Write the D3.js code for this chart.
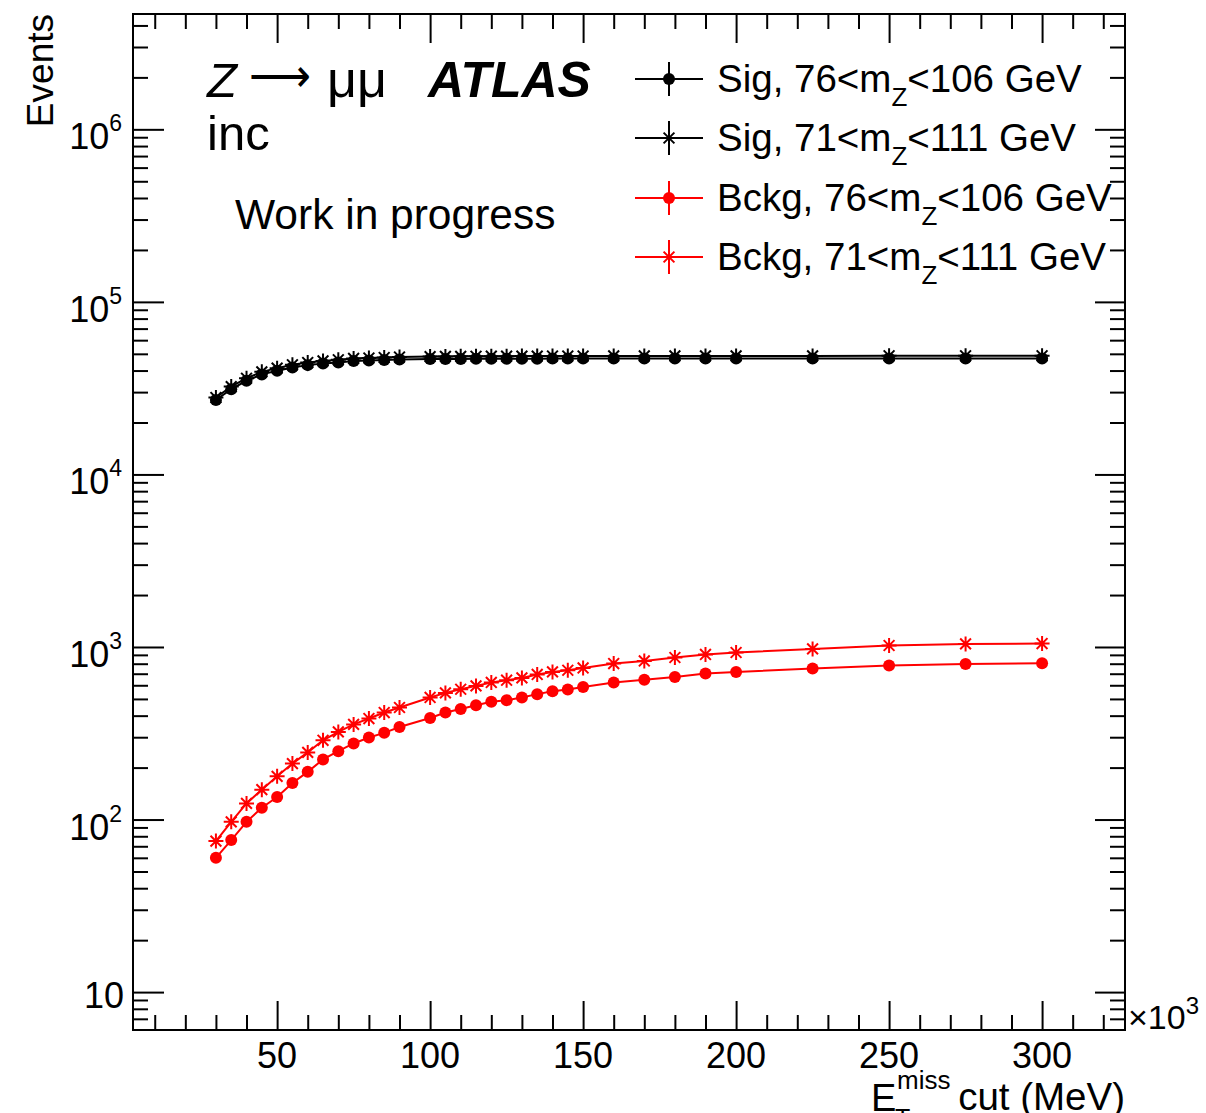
<!DOCTYPE html>
<html>
<head>
<meta charset="utf-8">
<script src="https://cdn.jsdelivr.net/npm/d3@7"></script>
<style>
  html, body { margin: 0; padding: 0; background: #fff; }
  svg { display: block; }
  text { font-family: "Liberation Sans", Arial, Helvetica, sans-serif; fill: #000; }
</style>
</head>
<body>
<svg id="chart"></svg>
<script>
/** Coupures en E_T^miss (x10^3 MeV) */
const cuts = [30, 35, 40, 45, 50, 55, 60, 65, 70, 75, 80, 85, 90,
  100, 105, 110, 115, 120, 125, 130, 135, 140, 145, 150,
  160, 170, 180, 190, 200, 225, 250, 275, 300];

/** Signal, fenetre 76<mZ<106 GeV */
const sigNarrow = [27000, 31200, 34900, 38000, 39900, 41700, 43000, 44000, 44600, 45400, 45700, 46000, 46300,
  46600, 46650, 46700, 46750, 46800, 46800, 46850, 46850, 46900, 46900, 46900,
  46950, 46950, 47000, 47000, 47000, 47000, 47050, 47050, 47050];

/** Signal, fenetre 71<mZ<111 GeV */
const sigWide = [27900, 32300, 36100, 39300, 41300, 43200, 44500, 45500, 46200, 47000, 47300, 47600, 47900,
  48200, 48300, 48350, 48400, 48450, 48450, 48500, 48500, 48550, 48550, 48550,
  48600, 48600, 48650, 48650, 48650, 48650, 48700, 48700, 48700];

/** Bruit de fond, fenetre 76<mZ<106 GeV */
const bkgNarrow = [60, 76, 97, 117, 135, 163, 189, 223, 249, 276, 299, 318, 344,
  388, 417, 437, 460, 481, 492, 510, 533, 554, 567, 587,
  623, 645, 671, 702, 717, 750, 781, 798, 805];

/** Bruit de fond, fenetre 71<mZ<111 GeV */
const bkgWide = [75, 97, 124, 149, 178, 211, 245, 288, 322, 356, 385, 417, 446,
  510, 542, 569, 595, 623, 642, 662, 693, 717, 733, 756,
  802, 830, 869, 905, 929, 975, 1020, 1042, 1047];

/** Legende : debut, indice, fin */
const legendPrefix = ["Sig, 76<m", "Sig, 71<m", "Bckg, 76<m", "Bckg, 71<m"];
const legendSub = ["Z", "Z", "Z", "Z"];
const legendSuffix = ["<106 GeV", "<111 GeV", "<106 GeV", "<111 GeV"];

/** Etiquettes des axes */
const xTickValues = [50, 100, 150, 200, 250, 300];
const yTickPowers = [1, 2, 3, 4, 5, 6];

const series = [
  { values: bkgNarrow, color: "#ff0000", marker: "dot" },
  { values: bkgWide, color: "#ff0000", marker: "star" },
  { values: sigNarrow, color: "#000000", marker: "dot" },
  { values: sigWide, color: "#000000", marker: "star" }
];
const legendOrder = [2, 3, 0, 1];

const W = 1206, H = 1113;
const frame = { left: 133, right: 1125, top: 14, bottom: 1030 };

const svg = d3.select("#chart").attr("width", W).attr("height", H);

const x = d3.scaleLinear().domain([2.9, 327.1]).range([frame.left, frame.right]);
const y = d3.scaleLog().domain([6.03, 4.66e6]).range([frame.bottom, frame.top]);

/** Marqueur etoile (+ et x) */
function starPath(cx, cy, s) {
  const d = s * 0.72;
  return `M${cx - s},${cy}L${cx + s},${cy}M${cx},${cy - s}L${cx},${cy + s}` +
    `M${cx - d},${cy - d}L${cx + d},${cy + d}M${cx - d},${cy + d}L${cx + d},${cy - d}`;
}

function drawMarker(g, m, cx, cy, color) {
  if (m === "dot") {
    g.append("circle").attr("cx", cx).attr("cy", cy).attr("r", 6).attr("fill", color);
  } else {
    g.append("path").attr("d", starPath(cx, cy, 7.5))
      .attr("stroke", color).attr("stroke-width", 2).attr("fill", "none");
  }
}

/** Graduations */
const ticks = svg.append("g");
function drawTicks(axisFn, scale, values, size, transform) {
  ticks.append("g").attr("transform", transform)
    .call(axisFn(scale).tickValues(values).tickSize(size).tickFormat(""))
    .call(a => a.select(".domain").remove())
    .selectAll("line").attr("stroke", "#000").attr("stroke-width", 2);
}
const yAll = y.ticks();
const yMajor = yAll.filter(v => Math.abs(Math.log10(v) - Math.round(Math.log10(v))) < 1e-9);
const yMinor = yAll.filter(v => !yMajor.includes(v));
const xMinor = d3.range(10, 330, 10).filter(v => v % 50 !== 0);

drawTicks(d3.axisRight, y, yMinor, 15, `translate(${frame.left},0)`);
drawTicks(d3.axisRight, y, yMajor, 31, `translate(${frame.left},0)`);
drawTicks(d3.axisLeft, y, yMinor, 15, `translate(${frame.right},0)`);
drawTicks(d3.axisLeft, y, yMajor, 30, `translate(${frame.right},0)`);
drawTicks(d3.axisTop, x, xMinor, 15, `translate(0,${frame.bottom})`);
drawTicks(d3.axisTop, x, xTickValues, 29, `translate(0,${frame.bottom})`);
drawTicks(d3.axisBottom, x, xMinor, 15, `translate(0,${frame.top})`);
drawTicks(d3.axisBottom, x, xTickValues, 29, `translate(0,${frame.top})`);

/** Cadre */
svg.append("rect")
  .attr("x", frame.left).attr("y", frame.top)
  .attr("width", frame.right - frame.left).attr("height", frame.bottom - frame.top)
  .attr("fill", "none").attr("stroke", "#000").attr("stroke-width", 2);

/** Courbes et marqueurs */
const line = d3.line().x((d, i) => x(cuts[i])).y(d => y(d));
const plot = svg.append("g");
series.forEach(s => {
  plot.append("path").datum(s.values)
    .attr("fill", "none").attr("stroke", s.color).attr("stroke-width", 2)
    .attr("d", line);
});
series.forEach(s => {
  s.values.forEach((v, i) => drawMarker(plot, s.marker, x(cuts[i]), y(v), s.color));
});

/** Etiquettes de l'axe x */
svg.append("g").selectAll("text").data(xTickValues).enter().append("text")
  .attr("x", d => x(d)).attr("y", 1068)
  .attr("text-anchor", "middle").attr("font-size", 36)
  .text(d => d);

svg.append("text").attr("x", 1128).attr("y", 1029).attr("font-size", 34)
  .text("\u00d710")
  .append("tspan").attr("font-size", 24).attr("dy", -15).text("3");

/** Etiquettes de l'axe y */
yTickPowers.forEach(p => {
  const t = svg.append("text").attr("text-anchor", "end").attr("font-size", 36);
  if (p === 1) {
    t.attr("x", 124).attr("y", y(10) + 16).text("10");
  } else {
    t.attr("x", 122).attr("y", y(Math.pow(10, p)) + 20);
    t.append("tspan").text("10");
    t.append("tspan").attr("font-size", 23).attr("dy", -18).text(p);
  }
});

/** Titres des axes */
svg.append("text")
  .attr("transform", "translate(53,14) rotate(-90)")
  .attr("text-anchor", "end").attr("font-size", 37)
  .text("Events");

svg.append("text").attr("x", 871).attr("y", 1111).attr("font-size", 38).text("E");
svg.append("text").attr("x", 895).attr("y", 1127).attr("font-size", 25).text("T");
svg.append("text").attr("x", 897).attr("y", 1089).attr("font-size", 26).text("miss");
svg.append("text").attr("x", 1125).attr("y", 1110).attr("text-anchor", "end")
  .attr("font-size", 38.5).text("cut (MeV)");

/** Textes de l'analyse */
svg.append("text").attr("x", 207).attr("y", 97).attr("font-size", 49)
  .attr("font-style", "italic").text("Z");
svg.append("text").attr("x", 249).attr("y", 92).attr("font-size", 46)
  .attr("font-family", "DejaVu Sans").attr("textLength", 62)
  .attr("lengthAdjust", "spacingAndGlyphs").text("\u27f6");
svg.append("text").attr("x", 327).attr("y", 97).attr("font-size", 52)
  .attr("font-family", "Liberation Serif").text("\u03bc\u03bc");
svg.append("text").attr("x", 428).attr("y", 97).attr("font-size", 50)
  .attr("font-style", "italic").attr("font-weight", "bold").text("ATLAS");
svg.append("text").attr("x", 207).attr("y", 150).attr("font-size", 49).text("inc");
svg.append("text").attr("x", 235).attr("y", 229).attr("font-size", 42.5).text("Work in progress");

/** Legende */
const legendY = [79, 138, 198, 257];
const legend = svg.append("g");
legendOrder.forEach((si, k) => {
  const s = series[si];
  const cy = legendY[k];
  legend.append("line").attr("x1", 635).attr("x2", 703).attr("y1", cy).attr("y2", cy)
    .attr("stroke", s.color).attr("stroke-width", 2);
  legend.append("line").attr("x1", 669).attr("x2", 669).attr("y1", cy - 17).attr("y2", cy + 17)
    .attr("stroke", s.color).attr("stroke-width", 2);
  drawMarker(legend, s.marker, 669, cy, s.color);
  const t = legend.append("text").attr("x", 717).attr("y", cy + 13).attr("font-size", 38.5);
  t.append("tspan").text(legendPrefix[k]);
  t.append("tspan").attr("font-size", 26).attr("dy", 14).text(legendSub[k]);
  t.append("tspan").attr("dy", -14).text(legendSuffix[k]);
});
</script>
</body>
</html>
